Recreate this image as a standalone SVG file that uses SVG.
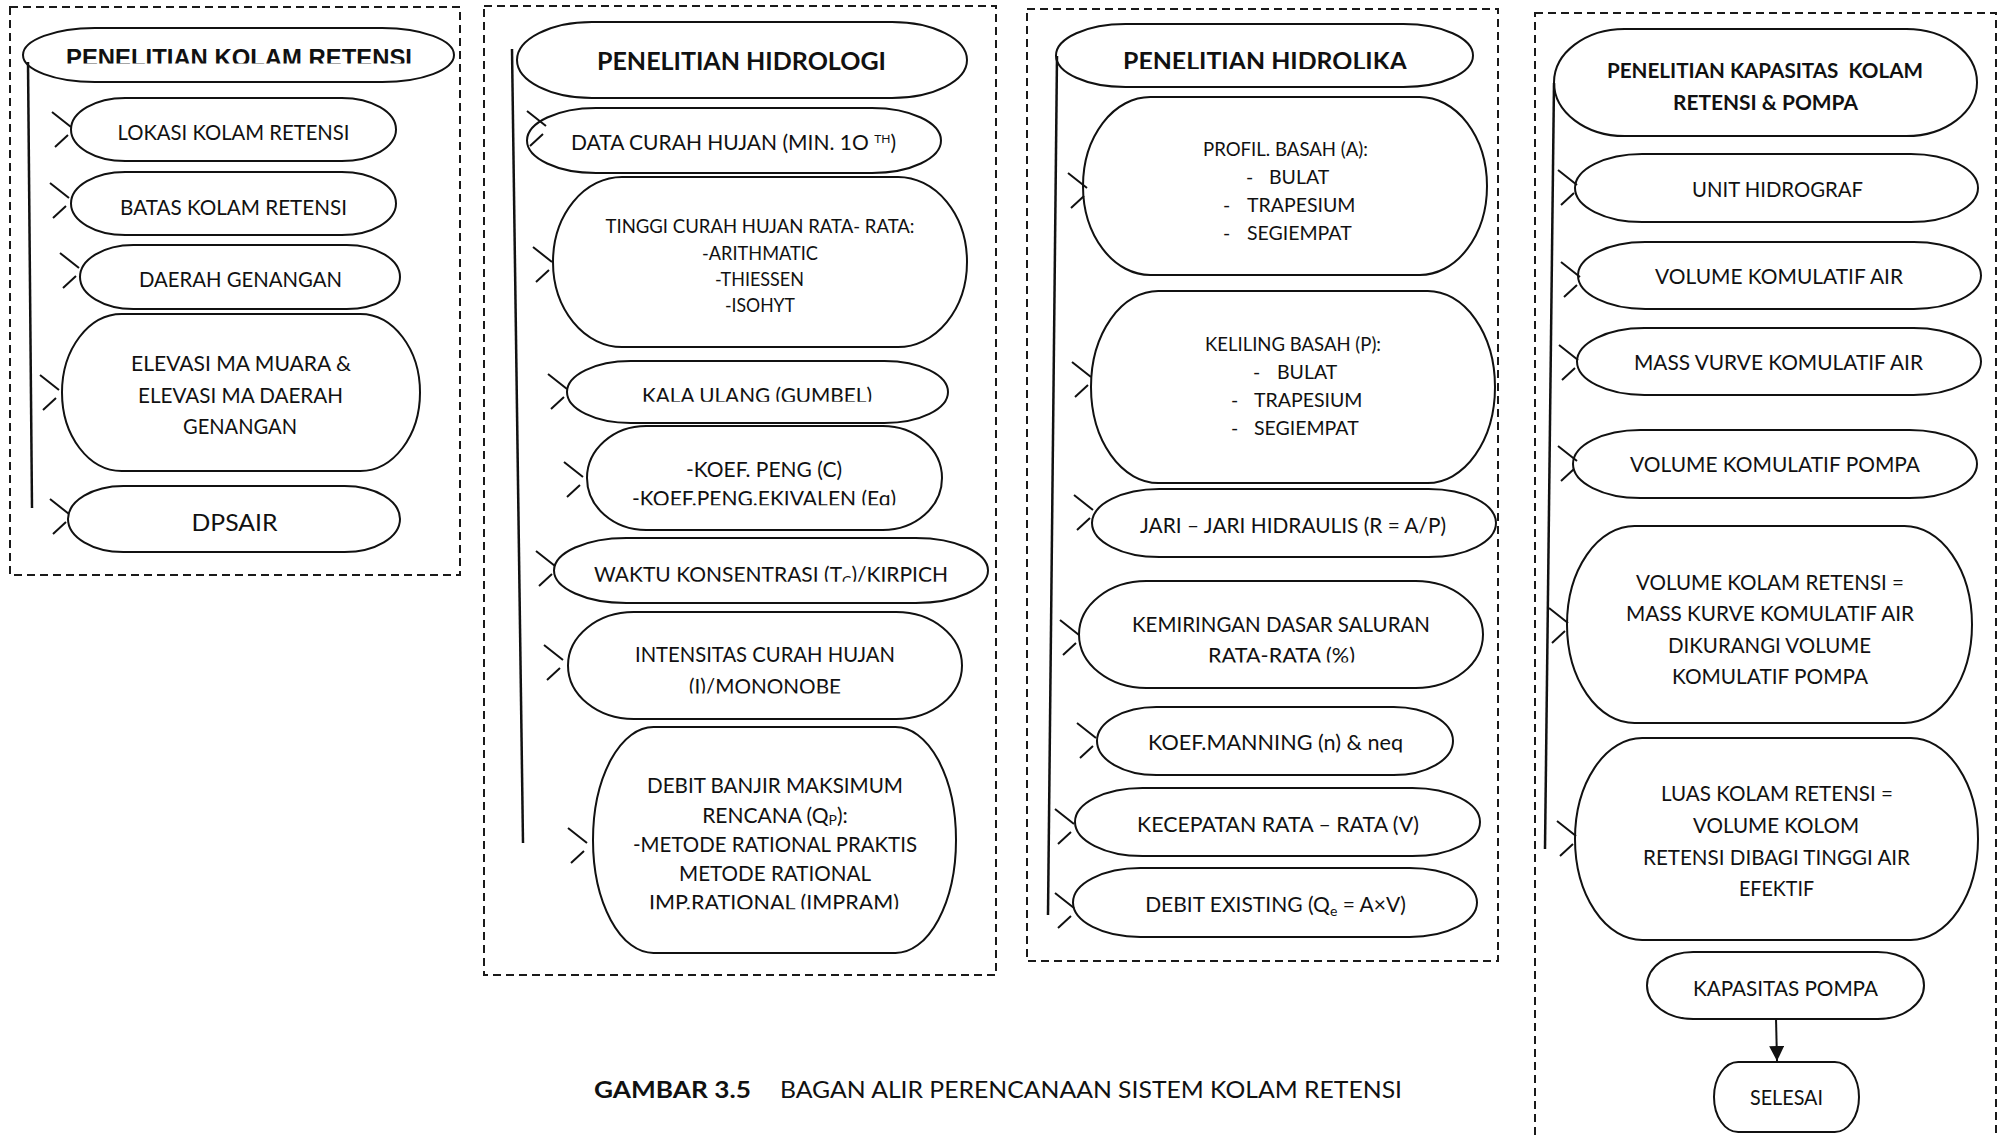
<svg xmlns="http://www.w3.org/2000/svg" width="2002" height="1136" viewBox="0 0 2002 1136">
<style>
.box{fill:none;stroke:#1a1a1a;stroke-width:2;stroke-dasharray:8 5}
.node{fill:#fff;stroke:#111;stroke-width:2}
.trunk{fill:none;stroke:#111;stroke-width:2.5}
.tick{fill:none;stroke:#111;stroke-width:2}
.t{font-family:Lato,'Open Sans',sans-serif;font-size:21px;fill:#111;text-anchor:middle}
.s{font-size:19.5px}
.h{font-weight:bold;font-size:25px}
.h4{font-weight:bold;font-size:21.5px}
.h1{font-family:'Liberation Sans',Arial,sans-serif;font-weight:bold;font-size:24px}
.l{text-anchor:start}
.sub{font-size:14px}
</style>
<defs>
<path id="tk" class="tick" d="M-19,-15 L0,0 M-16,20 L-3,8"/>
<marker id="ah" viewBox="0 0 10 10" refX="10" refY="5" markerWidth="15" markerHeight="15" markerUnits="userSpaceOnUse" orient="auto"><path d="M0,0 L10,5 L0,10 z" fill="#111"/></marker>
<clipPath id="c1" clipPathUnits="userSpaceOnUse"><rect x="0" y="0" width="2002" height="63.5"/></clipPath>
<clipPath id="c2" clipPathUnits="userSpaceOnUse"><rect x="0" y="0" width="2002" height="401.8"/></clipPath>
<clipPath id="c3" clipPathUnits="userSpaceOnUse"><rect x="0" y="0" width="2002" height="505.3"/></clipPath>
<clipPath id="c4" clipPathUnits="userSpaceOnUse"><rect x="0" y="0" width="2002" height="581.8"/></clipPath>
<clipPath id="c5" clipPathUnits="userSpaceOnUse"><rect x="0" y="0" width="2002" height="693.6"/></clipPath>
<clipPath id="c6" clipPathUnits="userSpaceOnUse"><rect x="0" y="0" width="2002" height="909.2"/></clipPath>
<clipPath id="c7" clipPathUnits="userSpaceOnUse"><rect x="0" y="0" width="2002" height="69"/></clipPath>
<clipPath id="c8" clipPathUnits="userSpaceOnUse"><rect x="0" y="0" width="2002" height="662.5"/></clipPath>
<clipPath id="c9" clipPathUnits="userSpaceOnUse"><rect x="0" y="0" width="2002" height="752.5"/></clipPath>
</defs>
<rect width="2002" height="1136" fill="#fff"/>

<g id="frames">
<rect class="box" x="10" y="7" width="450" height="568"/>
<rect class="box" x="484" y="6" width="512" height="969"/>
<rect class="box" x="1027" y="9" width="471" height="952"/>
<rect class="box" x="1535" y="13" width="461" height="1140"/>
</g>

<!-- Panel 1 -->
<g id="p1-header"><rect class="node" x="23" y="28" width="431" height="54" rx="71.8" ry="27"/>
<text class="h1" x="239" y="66" text-anchor="middle" fill="#111" textLength="346" lengthAdjust="spacingAndGlyphs" clip-path="url(#c1)">PENELITIAN KOLAM RETENSI</text></g>
<g id="p1-lokasi"><rect class="node" x="71" y="98" width="325" height="63" rx="54.2" ry="31.5"/>
<text class="t" x="233.5" y="139.5" textLength="232" lengthAdjust="spacingAndGlyphs">LOKASI KOLAM RETENSI</text></g>
<g id="p1-batas"><rect class="node" x="71" y="172" width="325" height="63" rx="54.2" ry="31.5"/>
<text class="t" x="233.5" y="214.5" textLength="227" lengthAdjust="spacingAndGlyphs">BATAS KOLAM RETENSI</text></g>
<g id="p1-daerah"><rect class="node" x="80" y="245" width="320" height="64" rx="53.3" ry="32"/>
<text class="t" x="240.5" y="286.5" textLength="203" lengthAdjust="spacingAndGlyphs">DAERAH GENANGAN</text></g>
<g id="p1-elevasi"><rect class="node" x="62" y="314" width="358" height="157" rx="59.7" ry="78.5"/>
<text class="t" x="241" y="371" textLength="220" lengthAdjust="spacingAndGlyphs">ELEVASI MA MUARA &amp;</text>
<text class="t" x="240.5" y="402.5" textLength="205" lengthAdjust="spacingAndGlyphs">ELEVASI MA DAERAH</text>
<text class="t" x="240" y="434" textLength="114" lengthAdjust="spacingAndGlyphs">GENANGAN</text></g>
<g id="p1-dpsair"><rect class="node" x="68" y="486" width="332" height="66" rx="55.3" ry="33"/>
<text class="t" x="234.5" y="531" style="font-size:24px" textLength="86" lengthAdjust="spacingAndGlyphs">DPSAIR</text></g>

<!-- Panel 2 -->
<g id="p2-header"><rect class="node" x="517" y="22" width="450" height="76" rx="75" ry="38"/>
<text class="t h" x="741.5" y="70" textLength="289" lengthAdjust="spacingAndGlyphs">PENELITIAN HIDROLOGI</text></g>
<g id="p2-data"><rect class="node" x="527" y="108" width="414" height="65" rx="69" ry="32.5"/>
<text class="t" x="733.5" y="150">DATA CURAH HUJAN (MIN. 1O <tspan style="font-size:12px" dy="-7">TH</tspan><tspan dy="7">)</tspan></text></g>
<g id="p2-tinggi"><rect class="node" x="553" y="177" width="414" height="170" rx="69" ry="85"/>
<text class="t s" x="760" y="233" textLength="309" lengthAdjust="spacingAndGlyphs">TINGGI CURAH HUJAN RATA- RATA:</text>
<text class="t s" x="760" y="260" textLength="116" lengthAdjust="spacingAndGlyphs">-ARITHMATIC</text>
<text class="t s" x="759.5" y="286" textLength="89" lengthAdjust="spacingAndGlyphs">-THIESSEN</text>
<text class="t s" x="760" y="312" textLength="70" lengthAdjust="spacingAndGlyphs">-ISOHYT</text></g>
<g id="p2-kala"><rect class="node" x="567" y="361" width="381" height="62" rx="63.5" ry="31"/>
<text class="t" x="757" y="402.5" textLength="230" lengthAdjust="spacingAndGlyphs" clip-path="url(#c2)">KALA ULANG (GUMBEL)</text></g>
<g id="p2-koef"><rect class="node" x="587" y="426" width="355" height="104" rx="59.2" ry="52"/>
<text class="t" x="764" y="477" textLength="156" lengthAdjust="spacingAndGlyphs">-KOEF. PENG (C)</text>
<text class="t" x="764" y="506" textLength="264" lengthAdjust="spacingAndGlyphs" clip-path="url(#c3)">-KOEF.PENG.EKIVALEN (Eq)</text></g>
<g id="p2-waktu"><rect class="node" x="554" y="538" width="434" height="65" rx="72.3" ry="32.5"/>
<text class="t" x="771" y="582" clip-path="url(#c4)">WAKTU KONSENTRASI (T<tspan class="sub" dy="4">C</tspan><tspan dy="-4">)/KIRPICH</tspan></text></g>
<g id="p2-intensitas"><rect class="node" x="568" y="612" width="394" height="107" rx="65.7" ry="53.5"/>
<text class="t" x="765" y="662" textLength="260" lengthAdjust="spacingAndGlyphs">INTENSITAS CURAH HUJAN</text>
<text class="t" x="765" y="694" textLength="152" lengthAdjust="spacingAndGlyphs" clip-path="url(#c5)">(I)/MONONOBE</text></g>
<g id="p2-debit"><rect class="node" x="593" y="727" width="363" height="226" rx="60.5" ry="113"/>
<text class="t" x="775" y="793" textLength="256" lengthAdjust="spacingAndGlyphs">DEBIT BANJIR MAKSIMUM</text>
<text class="t" x="775" y="823">RENCANA (Q<tspan class="sub" dy="2">P</tspan><tspan dy="-2">):</tspan></text>
<text class="t" x="775" y="852" textLength="284" lengthAdjust="spacingAndGlyphs">-METODE RATIONAL PRAKTIS</text>
<text class="t" x="775" y="881" textLength="192" lengthAdjust="spacingAndGlyphs">METODE RATIONAL</text>
<text class="t" x="774" y="910" textLength="250" lengthAdjust="spacingAndGlyphs" clip-path="url(#c6)">IMP.RATIONAL (IMPRAM)</text></g>

<!-- Panel 3 -->
<g id="p3-header"><rect class="node" x="1056" y="24" width="417" height="63" rx="69.5" ry="31.5"/>
<text class="t h" x="1265" y="69.5" textLength="284" lengthAdjust="spacingAndGlyphs" clip-path="url(#c7)">PENELITIAN HIDROLIKA</text></g>
<g id="p3-profil"><rect class="node" x="1083" y="97" width="404" height="178" rx="67.3" ry="89"/>
<text class="t s" x="1285.5" y="156" textLength="165" lengthAdjust="spacingAndGlyphs">PROFIL. BASAH (A):</text>
<text class="t s l" x="1246" y="184">- <tspan x="1269">BULAT</tspan></text>
<text class="t s l" x="1223" y="212">- <tspan x="1247">TRAPESIUM</tspan></text>
<text class="t s l" x="1223" y="240">- <tspan x="1247">SEGIEMPAT</tspan></text></g>
<g id="p3-keliling"><rect class="node" x="1091" y="291" width="404" height="192" rx="67.3" ry="96"/>
<text class="t s" x="1293" y="351" textLength="176" lengthAdjust="spacingAndGlyphs">KELILING BASAH (P):</text>
<text class="t s l" x="1253" y="379">- <tspan x="1277">BULAT</tspan></text>
<text class="t s l" x="1231" y="407">- <tspan x="1254">TRAPESIUM</tspan></text>
<text class="t s l" x="1231" y="435">- <tspan x="1254">SEGIEMPAT</tspan></text></g>
<g id="p3-jari"><rect class="node" x="1092" y="489" width="404" height="68" rx="67.3" ry="34"/>
<text class="t" x="1293" y="533" textLength="306" lengthAdjust="spacingAndGlyphs">JARI – JARI HIDRAULIS (R = A/P)</text></g>
<g id="p3-kemiringan"><rect class="node" x="1079" y="581" width="404" height="107" rx="67.3" ry="53.5"/>
<text class="t" x="1281" y="632" textLength="298" lengthAdjust="spacingAndGlyphs">KEMIRINGAN DASAR SALURAN</text>
<text class="t" x="1281.5" y="663" textLength="147" lengthAdjust="spacingAndGlyphs" clip-path="url(#c8)">RATA-RATA (%)</text></g>
<g id="p3-manning"><rect class="node" x="1097" y="707" width="356" height="68" rx="59.3" ry="34"/>
<text class="t" x="1275.5" y="750" textLength="255" lengthAdjust="spacingAndGlyphs" clip-path="url(#c9)">KOEF.MANNING (n) &amp; neq</text></g>
<g id="p3-kecepatan"><rect class="node" x="1075" y="788" width="405" height="68" rx="67.5" ry="34"/>
<text class="t" x="1278" y="832" textLength="282" lengthAdjust="spacingAndGlyphs">KECEPATAN RATA – RATA (V)</text></g>
<g id="p3-debit"><rect class="node" x="1073" y="868" width="404" height="69" rx="67.3" ry="34.5"/>
<text class="t" x="1275.5" y="912">DEBIT EXISTING (Q<tspan class="sub" dy="4">e</tspan><tspan dy="-4"> = A×V)</tspan></text></g>

<!-- Panel 4 -->
<g id="p4-header"><rect class="node" x="1554" y="29" width="423" height="107" rx="70.5" ry="53.5"/>
<text class="t h4" x="1765" y="78" textLength="316" lengthAdjust="spacingAndGlyphs" xml:space="preserve">PENELITIAN KAPASITAS  KOLAM</text>
<text class="t h4" x="1765.5" y="110" textLength="185" lengthAdjust="spacingAndGlyphs">RETENSI &amp; POMPA</text></g>
<g id="p4-unit"><rect class="node" x="1575" y="154" width="403" height="68" rx="67.2" ry="34"/>
<text class="t" x="1777.5" y="196.5" textLength="171" lengthAdjust="spacingAndGlyphs">UNIT HIDROGRAF</text></g>
<g id="p4-volair"><rect class="node" x="1578" y="242" width="403" height="67" rx="67.2" ry="33.5"/>
<text class="t" x="1779" y="284" textLength="248" lengthAdjust="spacingAndGlyphs">VOLUME KOMULATIF AIR</text></g>
<g id="p4-mass"><rect class="node" x="1577" y="328" width="404" height="67" rx="67.3" ry="33.5"/>
<text class="t" x="1778.5" y="370" textLength="289" lengthAdjust="spacingAndGlyphs">MASS VURVE KOMULATIF AIR</text></g>
<g id="p4-volpompa"><rect class="node" x="1573" y="430" width="404" height="68" rx="67.3" ry="34"/>
<text class="t" x="1775" y="472" textLength="290" lengthAdjust="spacingAndGlyphs">VOLUME KOMULATIF POMPA</text></g>
<g id="p4-volkolam"><rect class="node" x="1567" y="526" width="405" height="197" rx="67.5" ry="98.5"/>
<text class="t" x="1770" y="590" textLength="268" lengthAdjust="spacingAndGlyphs">VOLUME KOLAM RETENSI =</text>
<text class="t" x="1770" y="621" textLength="288" lengthAdjust="spacingAndGlyphs">MASS KURVE KOMULATIF AIR</text>
<text class="t" x="1769.5" y="652.5" textLength="203" lengthAdjust="spacingAndGlyphs">DIKURANGI VOLUME</text>
<text class="t" x="1770" y="684" textLength="196" lengthAdjust="spacingAndGlyphs">KOMULATIF POMPA</text></g>
<g id="p4-luas"><rect class="node" x="1575" y="738" width="403" height="202" rx="67.2" ry="101"/>
<text class="t" x="1777" y="801" textLength="232" lengthAdjust="spacingAndGlyphs">LUAS KOLAM RETENSI =</text>
<text class="t" x="1776" y="833" textLength="166" lengthAdjust="spacingAndGlyphs">VOLUME KOLOM</text>
<text class="t" x="1776.5" y="864.5" textLength="267" lengthAdjust="spacingAndGlyphs">RETENSI DIBAGI TINGGI AIR</text>
<text class="t" x="1776.5" y="896" textLength="75" lengthAdjust="spacingAndGlyphs">EFEKTIF</text></g>
<g id="p4-kapasitas"><rect class="node" x="1647" y="952" width="277" height="67" rx="46.2" ry="33.5"/>
<text class="t" x="1785.5" y="996" textLength="185" lengthAdjust="spacingAndGlyphs">KAPASITAS POMPA</text></g>
<g id="p4-selesai"><rect class="node" x="1714" y="1062" width="145" height="70" rx="24.2" ry="35"/>
<text class="t" x="1786.5" y="1105" textLength="73" lengthAdjust="spacingAndGlyphs">SELESAI</text></g>

<g id="caption">
<text class="t" x="672.5" y="1098" style="font-weight:bold;font-size:23px" textLength="157" lengthAdjust="spacingAndGlyphs">GAMBAR 3.5</text>
<text class="t" x="1091" y="1098" style="font-size:23px" textLength="622" lengthAdjust="spacingAndGlyphs">BAGAN ALIR PERENCANAAN SISTEM KOLAM RETENSI</text>
</g>

<g id="connectors">
<line class="trunk" x1="28" y1="62" x2="32" y2="508"/>
<line class="trunk" x1="512" y1="49" x2="523" y2="843"/>
<line class="trunk" x1="1057" y1="56" x2="1048" y2="915"/>
<line class="trunk" x1="1554" y1="83" x2="1545" y2="849"/>
<use href="#tk" x="71" y="127"/>
<use href="#tk" x="69" y="198"/>
<use href="#tk" x="79" y="268"/>
<use href="#tk" x="59" y="390"/>
<use href="#tk" x="69" y="514"/>
<use href="#tk" x="546" y="126"/>
<use href="#tk" x="552" y="262"/>
<use href="#tk" x="567" y="389"/>
<use href="#tk" x="583" y="477"/>
<use href="#tk" x="555" y="566"/>
<use href="#tk" x="563" y="660"/>
<use href="#tk" x="587" y="843"/>
<use href="#tk" x="1087" y="188"/>
<use href="#tk" x="1091" y="377"/>
<use href="#tk" x="1093" y="510"/>
<use href="#tk" x="1079" y="635"/>
<use href="#tk" x="1096" y="738"/>
<use href="#tk" x="1074" y="824"/>
<use href="#tk" x="1074" y="908"/>
<use href="#tk" x="1577" y="185"/>
<use href="#tk" x="1580" y="277"/>
<use href="#tk" x="1578" y="360"/>
<use href="#tk" x="1577" y="461"/>
<use href="#tk" x="1568" y="623"/>
<use href="#tk" x="1576" y="836"/>
<line x1="1776" y1="1018" x2="1777" y2="1061" stroke="#111" stroke-width="2" marker-end="url(#ah)"/>
</g>
</svg>
